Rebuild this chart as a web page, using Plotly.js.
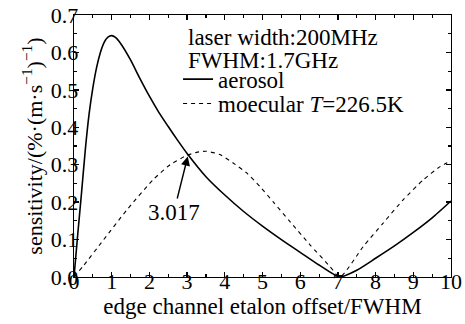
<!DOCTYPE html>
<html>
<head>
<meta charset="utf-8">
<script src="https://cdn.plot.ly/plotly-3.0.1.min.js"></script>
<style>html,body{margin:0;padding:0;background:#fff;}#chart{width:465px;height:324px;}</style>
</head>
<body>
<div id="chart"></div>
<script>
// Aerosol sensitivity curve
const aerosolX = [0, 0.1, 0.2, 0.3, 0.4, 0.5, 0.6, 0.7, 0.8, 0.9, 1.0, 1.1, 1.25, 1.5, 1.75, 2.0, 2.25, 2.5, 2.75, 3.0, 3.5, 4.0, 4.5, 5.0, 5.5, 6.0, 6.5, 7.05, 7.5, 8.0, 8.5, 9.0, 9.5, 10];
const aerosolY = [0, 0.115, 0.225, 0.34, 0.435, 0.505, 0.56, 0.6, 0.627, 0.641, 0.645, 0.64, 0.622, 0.58, 0.53, 0.483, 0.44, 0.402, 0.365, 0.33, 0.268, 0.219, 0.175, 0.136, 0.100, 0.066, 0.032, 0, 0.018, 0.05, 0.083, 0.119, 0.158, 0.203];
// Molecular sensitivity curve
const molecX = [0, 0.25, 0.78, 1.4, 2.1, 2.55, 3.0, 3.25, 3.5, 3.87, 4.23, 4.58, 4.93, 5.29, 5.73, 6.26, 6.79, 7.05, 7.67, 8.2, 8.73, 9.27, 9.71, 10];
const molecY = [0, 0.03, 0.099, 0.179, 0.26, 0.30, 0.325, 0.333, 0.336, 0.327, 0.304, 0.278, 0.242, 0.2, 0.148, 0.086, 0.028, 0, 0.081, 0.144, 0.206, 0.26, 0.295, 0.31];
const seriesNames = ["aerosol", "moecular <i>T</i>=226.5K"];
const crossX = 3.017;
const crossY = 0.322;
const crossLabel = "3.017";
const infoLines = ["laser width:200MHz", "FWHM:1.7GHz"];
const xTicks = [0,1,2,3,4,5,6,7,8,9,10];
const yTicks = [0,0.1,0.2,0.3,0.4,0.5,0.6,0.7];
const yTickText = ["0.0","0.1","0.2","0.3","0.4","0.5","0.6","0.7"];

const F = "Liberation Serif";

const traces = [
  {x: aerosolX, y: aerosolY, type: "scatter", mode: "lines", name: seriesNames[0],
   line: {color: "#000", width: 1.6, shape: "spline", smoothing: 0.6}, legend: "legend"},
  {x: molecX, y: molecY, type: "scatter", mode: "lines", name: seriesNames[1],
   line: {color: "#000", width: 1.1, dash: "4px,4px", shape: "spline", smoothing: 0.6}, legend: "legend2"}
];

const axisCommon = {
  showline: true, linecolor: "#000", linewidth: 1.3, mirror: "ticks",
  ticks: "inside", ticklen: 5, tickwidth: 1.3, tickcolor: "#000",
  showgrid: false, zeroline: false,
  tickfont: {family: F, size: 22, color: "#000"},
  minor: {ticks: "inside", ticklen: 3, tickwidth: 1.1, tickcolor: "#000", showgrid: false}
};

const layout = {
  width: 465, height: 324,
  margin: {l: 74, r: 14, t: 15, b: 47},
  paper_bgcolor: "#fff", plot_bgcolor: "#fff",
  font: {family: F, size: 23, color: "#000"},
  xaxis: Object.assign({}, axisCommon, {
    range: [0, 10], tickvals: xTicks, ticktext: xTicks.map(String),
    minor: Object.assign({}, axisCommon.minor, {dtick: 0.5, tick0: 0}),
    ticklabelstandoff: -16,
    title: {text: "edge channel etalon offset/FWHM", font: {family: F, size: 23}, standoff: 0}
  }),
  yaxis: Object.assign({}, axisCommon, {
    range: [0, 0.7], tickvals: yTicks, ticktext: yTickText,
    minor: Object.assign({}, axisCommon.minor, {dtick: 0.05, tick0: 0}),
    ticklabelstandoff: -10,
    title: {text: "sensitivity/(%·(m·s<sup>−1</sup>)<sup>−1</sup>)", font: {family: F, size: 22}, standoff: 2}
  }),
  legend: {x: 0.276, y: 0.755, xanchor: "left", yanchor: "middle", bgcolor: "rgba(0,0,0,0)",
           font: {family: F, size: 23}, borderwidth: 0, tracegroupgap: 0},
  legend2: {x: 0.276, y: 0.662, xanchor: "left", yanchor: "middle", bgcolor: "rgba(0,0,0,0)",
           font: {family: F, size: 23}, borderwidth: 0, tracegroupgap: 0},
  annotations: [
    {xref: "paper", yref: "paper", x: 0.297, y: 0.916, xanchor: "left", yanchor: "middle",
     text: infoLines[0], showarrow: false, font: {family: F, size: 23}},
    {xref: "paper", yref: "paper", x: 0.297, y: 0.826, xanchor: "left", yanchor: "middle",
     text: infoLines[1], showarrow: false, font: {family: F, size: 23}},
    {x: crossX, y: crossY, xref: "x", yref: "y", text: crossLabel, showarrow: true,
     ax: -14, ay: 56, arrowhead: 2, arrowsize: 1.3, arrowwidth: 1.4, arrowcolor: "#000",
     font: {family: F, size: 23}}
  ],
  showlegend: true
};

Plotly.newPlot("chart", traces, layout, {staticPlot: true, displayModeBar: false});
</script>
</body>
</html>
